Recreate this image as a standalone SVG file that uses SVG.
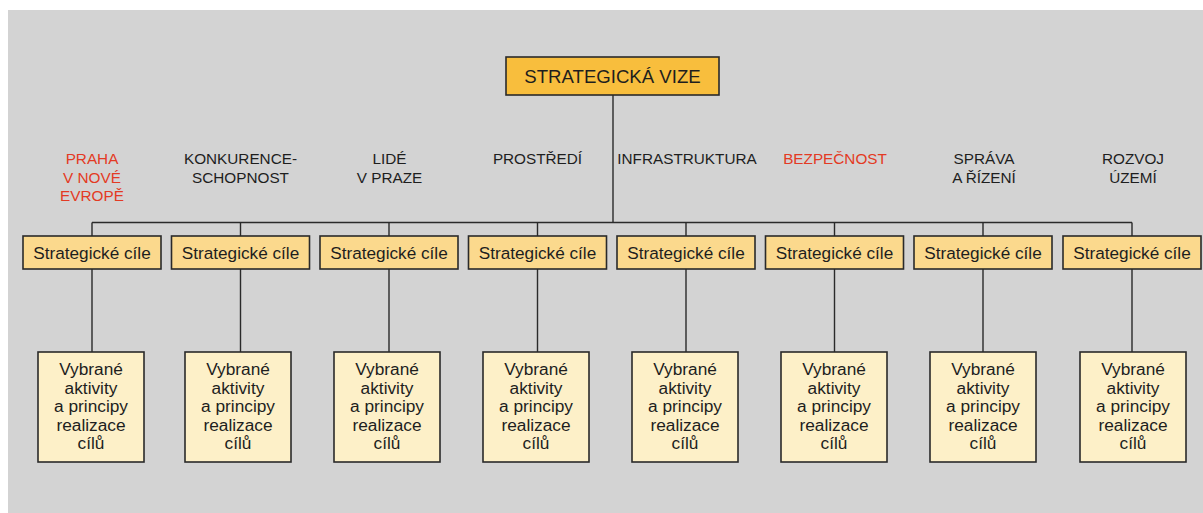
<svg xmlns="http://www.w3.org/2000/svg" width="1203" height="513" viewBox="0 0 1203 513">
<style>
.bg{fill:#d3d3d3}
.box{stroke:#2a2a2a;stroke-width:1.6}
.top{fill:#f8be3d}
.sc{fill:#fbd98d}
.ac{fill:#fdf0c8}
.ln{stroke:#2a2a2a;stroke-width:1.4;fill:none}
text{font-family:"Liberation Sans",Arial,sans-serif;fill:#1e1e1e;text-anchor:middle}
.lab{font-size:15.3px}
.red{fill:#e33a24}
.t16{font-size:17.2px}
.t17{font-size:17.3px}
.t18{font-size:18.6px}
</style>
<rect class="bg" x="8" y="10" width="1195" height="503"/>
<g id="connectors">
<line class="ln" x1="613" y1="95" x2="613" y2="222.5"/>
<line class="ln" x1="92" y1="222.5" x2="1132" y2="222.5"/>
<path class="ln" d="M92 222.5V352M240.5 222.5V352M389 222.5V352M537.5 222.5V352M686 222.5V352M834.5 222.5V352M983 222.5V352M1132 222.5V352"/>
</g>
<g id="vize">
<rect class="box top" x="506" y="57" width="213" height="38"/>
<text class="t18" x="612.5" y="83">STRATEGICKÁ VIZE</text>
</g>
<g id="labels">
<text class="lab red" x="92" y="164">PRAHA<tspan x="92" dy="18.5">V NOVÉ</tspan><tspan x="92" dy="18.5">EVROPĚ</tspan></text>
<text class="lab" x="240.5" y="164">KONKURENCE-<tspan x="240.5" dy="18.5">SCHOPNOST</tspan></text>
<text class="lab" x="389.5" y="164">LIDÉ<tspan x="389.5" dy="18.5">V PRAZE</tspan></text>
<text class="lab" x="537.5" y="164">PROSTŘEDÍ</text>
<text class="lab" x="687" y="164">INFRASTRUKTURA</text>
<text class="lab red" x="835" y="164">BEZPEČNOST</text>
<text class="lab" x="984" y="164">SPRÁVA<tspan x="984" dy="18.5">A ŘÍZENÍ</tspan></text>
<text class="lab" x="1133" y="164">ROZVOJ<tspan x="1133" dy="18.5">ÚZEMÍ</tspan></text>
</g>
<g id="cile1"><rect class="box sc" x="23" y="236" width="138" height="33"/><text class="t16" x="92" y="258.5">Strategické cíle</text></g>
<g id="cile2"><rect class="box sc" x="171.5" y="236" width="138" height="33"/><text class="t16" x="240.5" y="258.5">Strategické cíle</text></g>
<g id="cile3"><rect class="box sc" x="320" y="236" width="138" height="33"/><text class="t16" x="389" y="258.5">Strategické cíle</text></g>
<g id="cile4"><rect class="box sc" x="468.5" y="236" width="138" height="33"/><text class="t16" x="537.5" y="258.5">Strategické cíle</text></g>
<g id="cile5"><rect class="box sc" x="617" y="236" width="138" height="33"/><text class="t16" x="686" y="258.5">Strategické cíle</text></g>
<g id="cile6"><rect class="box sc" x="765.5" y="236" width="138" height="33"/><text class="t16" x="834.5" y="258.5">Strategické cíle</text></g>
<g id="cile7"><rect class="box sc" x="914" y="236" width="138" height="33"/><text class="t16" x="983" y="258.5">Strategické cíle</text></g>
<g id="cile8"><rect class="box sc" x="1063" y="236" width="138" height="33"/><text class="t16" x="1132" y="258.5">Strategické cíle</text></g>
<g id="akt1"><rect class="box ac" x="38" y="352" width="106" height="110"/><text class="t17" x="91" y="375">Vybrané<tspan x="91" dy="18.6">aktivity</tspan><tspan x="91" dy="18.6">a principy</tspan><tspan x="91" dy="18.6">realizace</tspan><tspan x="91" dy="18.6">cílů</tspan></text></g>
<g id="akt2"><rect class="box ac" x="185" y="352" width="106" height="110"/><text class="t17" x="238" y="375">Vybrané<tspan x="238" dy="18.6">aktivity</tspan><tspan x="238" dy="18.6">a principy</tspan><tspan x="238" dy="18.6">realizace</tspan><tspan x="238" dy="18.6">cílů</tspan></text></g>
<g id="akt3"><rect class="box ac" x="334" y="352" width="106" height="110"/><text class="t17" x="387" y="375">Vybrané<tspan x="387" dy="18.6">aktivity</tspan><tspan x="387" dy="18.6">a principy</tspan><tspan x="387" dy="18.6">realizace</tspan><tspan x="387" dy="18.6">cílů</tspan></text></g>
<g id="akt4"><rect class="box ac" x="483" y="352" width="106" height="110"/><text class="t17" x="536" y="375">Vybrané<tspan x="536" dy="18.6">aktivity</tspan><tspan x="536" dy="18.6">a principy</tspan><tspan x="536" dy="18.6">realizace</tspan><tspan x="536" dy="18.6">cílů</tspan></text></g>
<g id="akt5"><rect class="box ac" x="632" y="352" width="106" height="110"/><text class="t17" x="685" y="375">Vybrané<tspan x="685" dy="18.6">aktivity</tspan><tspan x="685" dy="18.6">a principy</tspan><tspan x="685" dy="18.6">realizace</tspan><tspan x="685" dy="18.6">cílů</tspan></text></g>
<g id="akt6"><rect class="box ac" x="781" y="352" width="106" height="110"/><text class="t17" x="834" y="375">Vybrané<tspan x="834" dy="18.6">aktivity</tspan><tspan x="834" dy="18.6">a principy</tspan><tspan x="834" dy="18.6">realizace</tspan><tspan x="834" dy="18.6">cílů</tspan></text></g>
<g id="akt7"><rect class="box ac" x="930" y="352" width="106" height="110"/><text class="t17" x="983" y="375">Vybrané<tspan x="983" dy="18.6">aktivity</tspan><tspan x="983" dy="18.6">a principy</tspan><tspan x="983" dy="18.6">realizace</tspan><tspan x="983" dy="18.6">cílů</tspan></text></g>
<g id="akt8"><rect class="box ac" x="1080" y="352" width="106" height="110"/><text class="t17" x="1133" y="375">Vybrané<tspan x="1133" dy="18.6">aktivity</tspan><tspan x="1133" dy="18.6">a principy</tspan><tspan x="1133" dy="18.6">realizace</tspan><tspan x="1133" dy="18.6">cílů</tspan></text></g>
</svg>
